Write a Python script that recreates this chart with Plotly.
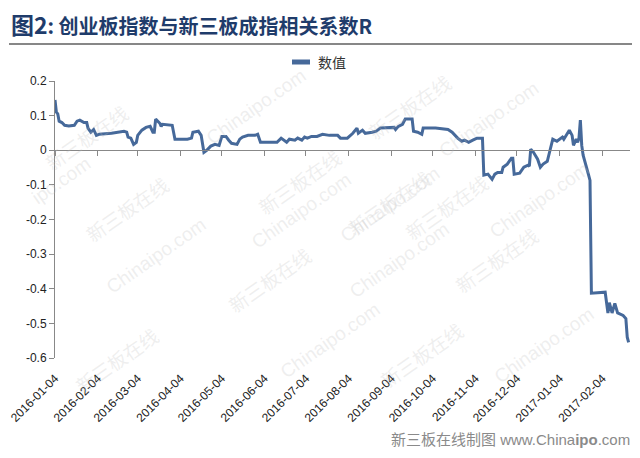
import plotly.graph_objects as go

# ---- data ----
dates = [
    "2016-01-04", "2016-01-05", "2016-01-06", "2016-01-07", "2016-01-09", "2016-01-11", "2016-01-14",
    "2016-01-18", "2016-01-20", "2016-01-22", "2016-01-25", "2016-01-27", "2016-01-28", "2016-01-30",
    "2016-02-01", "2016-02-02", "2016-02-03", "2016-02-05", "2016-02-14", "2016-02-23", "2016-02-25",
    "2016-02-26", "2016-02-28", "2016-03-01", "2016-03-03", "2016-03-04", "2016-03-07", "2016-03-10",
    "2016-03-13", "2016-03-15", "2016-03-16", "2016-03-17", "2016-03-20", "2016-03-21", "2016-03-22",
    "2016-03-29", "2016-03-31", "2016-04-09", "2016-04-12", "2016-04-13", "2016-04-17", "2016-04-19",
    "2016-04-21", "2016-04-23", "2016-04-26", "2016-04-29", "2016-05-02", "2016-05-04", "2016-05-07",
    "2016-05-09", "2016-05-11", "2016-05-15", "2016-05-17", "2016-05-19", "2016-05-23", "2016-05-28",
    "2016-05-30", "2016-06-01", "2016-06-13", "2016-06-16", "2016-06-20", "2016-06-22", "2016-06-26",
    "2016-06-28", "2016-07-01", "2016-07-03", "2016-07-05", "2016-07-08", "2016-07-12", "2016-07-16",
    "2016-07-21", "2016-07-27", "2016-07-29", "2016-08-03", "2016-08-07", "2016-08-10", "2016-08-11",
    "2016-08-14", "2016-08-16", "2016-08-21", "2016-08-24", "2016-08-27", "2016-09-04", "2016-09-06",
    "2016-09-07", "2016-09-09", "2016-09-12", "2016-09-14", "2016-09-19", "2016-09-20", "2016-09-23",
    "2016-09-26", "2016-09-27", "2016-10-06", "2016-10-15", "2016-10-18", "2016-10-22", "2016-10-25",
    "2016-10-27", "2016-10-30", "2016-11-02", "2016-11-05", "2016-11-09", "2016-11-10", "2016-11-13",
    "2016-11-16", "2016-11-18", "2016-11-20", "2016-11-23", "2016-11-24", "2016-11-27", "2016-11-30",
    "2016-12-01", "2016-12-02", "2016-12-06", "2016-12-09", "2016-12-12", "2016-12-13", "2016-12-14",
    "2016-12-16", "2016-12-19", "2016-12-21", "2016-12-23", "2016-12-26", "2016-12-28", "2016-12-30",
    "2017-01-02", "2017-01-06", "2017-01-07", "2017-01-10", "2017-01-11", "2017-01-13", "2017-01-14",
    "2017-01-16", "2017-01-17", "2017-01-18", "2017-01-19", "2017-01-20", "2017-01-21", "2017-01-23",
    "2017-01-24", "2017-01-25", "2017-01-26", "2017-01-27", "2017-02-06", "2017-02-08", "2017-02-09",
    "2017-02-11", "2017-02-13", "2017-02-15", "2017-02-19", "2017-02-21", "2017-02-22", "2017-02-23",
]
values = [
    0.145, 0.11, 0.105, 0.084, 0.08, 0.072, 0.07,
    0.072, 0.084, 0.087, 0.08, 0.08, 0.063, 0.052,
    0.06, 0.052, 0.043, 0.046, 0.049, 0.055, 0.052,
    0.038, 0.035, 0.017, 0.023, 0.043, 0.058, 0.066,
    0.069, 0.052, 0.052, 0.09, 0.078, 0.069, 0.075,
    0.072, 0.032, 0.032, 0.035, 0.052, 0.055, 0.043,
    -0.006, 0.0, 0.012, 0.017, 0.014, 0.04, 0.04,
    0.029, 0.02, 0.017, 0.032, 0.038, 0.043, 0.043,
    0.046, 0.023, 0.023, 0.035, 0.023, 0.032, 0.029,
    0.035, 0.029, 0.038, 0.035, 0.04, 0.04, 0.046,
    0.043, 0.043, 0.035, 0.035, 0.049, 0.064, 0.049,
    0.058, 0.049, 0.052, 0.055, 0.064, 0.064, 0.066,
    0.06, 0.069, 0.075, 0.09, 0.09, 0.055, 0.052,
    0.046, 0.064, 0.064, 0.06, 0.052, 0.035, 0.026,
    0.029, 0.023, 0.029, 0.035, 0.035, -0.072, -0.069,
    -0.084, -0.069, -0.064, -0.064, -0.049, -0.04, -0.023,
    -0.023, -0.069, -0.066, -0.049, -0.043, -0.046, 0.003,
    -0.006, -0.026, -0.049, -0.04, -0.032, 0.0, 0.032,
    0.026, 0.038, 0.032, 0.052, 0.058, 0.043, 0.014,
    0.032, 0.023, 0.035, 0.087, 0.014, -0.014, -0.043,
    -0.061, -0.072, -0.087, -0.413, -0.41, -0.47, -0.44,
    -0.47, -0.442, -0.47, -0.477, -0.486, -0.54, -0.555,
]
tick_dates = [
    "2016-01-04", "2016-02-04", "2016-03-04", "2016-04-04", "2016-05-04", "2016-06-04", "2016-07-04",
    "2016-08-04", "2016-09-04", "2016-10-04", "2016-11-04", "2016-12-04", "2017-01-04", "2017-02-04",
]
y_ticks = [0.2, 0.1, 0, -0.1, -0.2, -0.3, -0.4, -0.5, -0.6]
y_labels = ["0.2", "0.1", "0", "-0.1", "-0.2", "-0.3", "-0.4", "-0.5", "-0.6"]
series_name = "数值"
title_text = "<b><span style='font-size:23px'>图2</span>: 创业板指数与新三板成指相关系数R</b>"
footer_text = "新三板在线制图 www.China<b>ipo</b>.com"

x_range = ["2016-01-04", "2017-02-24"]
line_color = "#46699a"

# page body has an 8px margin, so the figure is drawn 8px right/down
OFF = 8
W, H = 640 - OFF, 458 - OFF
ML, MR, MT, MB = 55 - OFF, 10, 81 - OFF, 100
PW, PH = W - ML - MR, H - MT - MB


def px(xp):  # reference pixel x -> paper fraction
    return (xp - OFF - ML) / PW


def py(yp):  # reference pixel y -> paper fraction
    return 1 - (yp - OFF - MT) / PH


fig = go.Figure()
fig.add_trace(go.Scatter(
    x=dates, y=values, mode="lines", name=series_name,
    line=dict(color=line_color, width=3), showlegend=False,
))
# helper trace so the zero-crossing axis (x2) is drawn
fig.add_trace(go.Scatter(x=[dates[0]], y=[values[0]], xaxis="x2", mode="lines",
                         showlegend=False, hoverinfo="skip", line=dict(width=0)))

font_tick = dict(family="Liberation Sans, Arial, sans-serif", size=12, color="#222")

fig.update_layout(
    width=W, height=H,
    margin=dict(l=ML, r=MR, t=MT, b=MB, autoexpand=False),
    paper_bgcolor="white", plot_bgcolor="white",
    showlegend=False,
    xaxis=dict(type="date", range=x_range, tickvals=tick_dates, ticktext=tick_dates,
               tickangle=-45, showline=False, showgrid=False, zeroline=False,
               ticks="", tickfont=font_tick, automargin=False, ticklabelstandoff=10),
    xaxis2=dict(type="date", overlaying="x", matches="x", anchor="free", position=0.75,
                tickvals=tick_dates, showticklabels=False, ticks="outside", ticklen=5,
                tickcolor="#888", showline=True, linecolor="#888", linewidth=1, showgrid=False,
                automargin=False),
    yaxis=dict(range=[-0.6, 0.2], tickvals=y_ticks, ticktext=y_labels, showgrid=False,
               zeroline=False, showline=True, linecolor="#888", linewidth=1,
               ticks="outside", ticklen=5, tickcolor="#888", tickfont=font_tick,
               automargin=False),
)

# faint watermarks
wm = [
    ("Chinaipo.com", 200, 62), ("新三板在线", 410, 70), ("Chinaipo.com", 545, 75),
    ("新三板在线", 40, 100), ("ipo.com", 25, 150), ("新三板在线", 300, 145),
    ("Chinaipo.com", 390, 160), ("新三板在线", 495, 170), ("新三板在线", 80, 210),
    ("Chinaipo.com", 245, 210), ("Chinaipo.com", 595, 200), ("新三板在线", 390, 205),
    ("Chinaipo.com", 100, 300), ("新三板在线", 270, 320), ("Chinaipo.com", 455, 260),
    ("新三板在线", 545, 300), ("Chinaipo.com", 330, 385), ("新三板在线", 470, 395),
    ("新三板在线", 70, 400), ("Chinaipo.com", 600, 390),
]
for t, wx, wy in wm:
    fig.add_annotation(text=t, xref="paper", yref="paper", x=px(wx), y=py(wy),
                       showarrow=False, textangle=-35,
                       font=dict(family="Liberation Sans, Noto Sans CJK SC", size=19,
                                 color="rgba(190,190,190,0.25)"))

# title and rule
fig.add_annotation(text=title_text, xref="paper", yref="paper", x=px(9), y=py(24),
                   xanchor="left", yanchor="middle", showarrow=False,
                   font=dict(family="Noto Sans CJK SC", size=20, color="#1f3c6b"))
fig.add_shape(type="line", xref="paper", yref="paper", x0=px(9), x1=px(640),
              y0=py(44), y1=py(44), line=dict(color="#111", width=1.2))

# legend (line sample + label)
fig.add_shape(type="line", xref="paper", yref="paper", x0=px(292), x1=px(310),
              y0=py(62), y1=py(62), line=dict(color=line_color, width=5))
fig.add_annotation(text=series_name, xref="paper", yref="paper", x=px(316), y=py(62),
                   xanchor="left", yanchor="middle", showarrow=False,
                   font=dict(family="Noto Sans CJK SC", size=14, color="#333"))

# footer
fig.add_annotation(text=footer_text, xref="paper", yref="paper", x=px(632), y=py(439),
                   xanchor="right", yanchor="middle", showarrow=False,
                   font=dict(family="Liberation Sans, Noto Sans CJK SC", size=15, color="#8a8a8a"))

fig.write_html("out.html")
